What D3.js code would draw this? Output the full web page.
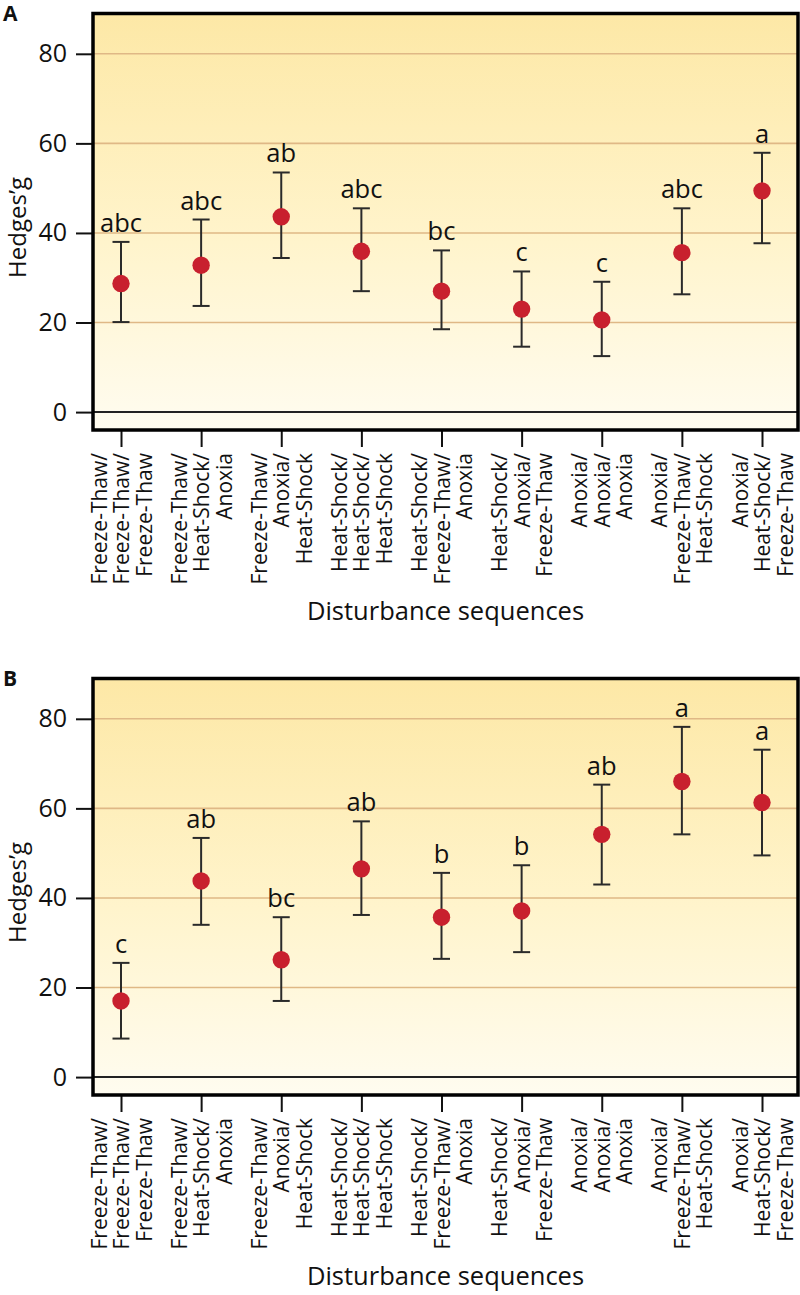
<!DOCTYPE html>
<html>
<head>
<meta charset="utf-8">
<script src="https://cdn.jsdelivr.net/npm/d3@7"></script>
<style>
  html, body { margin: 0; padding: 0; background: #fff; }
  svg { display: block; }
  text { font-family: "Open Sans", "Noto Sans", sans-serif; fill: #111; }
</style>
</head>
<body>
<svg id="chart" width="800" height="1295"></svg>
<script>
// ---------- DATA ----------
const categories = [
  ["Freeze-Thaw/", "Freeze-Thaw/", "Freeze-Thaw"],
  ["Freeze-Thaw/", "Heat-Shock/", "Anoxia"],
  ["Freeze-Thaw/", "Anoxia/", "Heat-Shock"],
  ["Heat-Shock/", "Heat-Shock/", "Heat-Shock"],
  ["Heat-Shock/", "Freeze-Thaw/", "Anoxia"],
  ["Heat-Shock/", "Anoxia/", "Freeze-Thaw"],
  ["Anoxia/", "Anoxia/", "Anoxia"],
  ["Anoxia/", "Freeze-Thaw/", "Heat-Shock"],
  ["Anoxia/", "Heat-Shock/", "Freeze-Thaw"]
];

// Panel A
const meanA  = [28.7, 32.8, 43.6, 35.9, 27.0, 23.0, 20.6, 35.6, 49.4];
const upperA = [38.0, 43.0, 53.5, 45.5, 36.1, 31.4, 29.1, 45.5, 57.9];
const lowerA = [20.1, 23.7, 34.4, 27.0, 18.5, 14.6, 12.5, 26.3, 37.7];
const lettersA = ["abc", "abc", "ab", "abc", "bc", "c", "c", "abc", "a"];

// Panel B
const meanB  = [17.0, 43.8, 26.2, 46.5, 35.7, 37.1, 54.2, 66.0, 61.3];
const upperB = [25.5, 53.4, 35.7, 57.1, 45.6, 47.3, 65.3, 78.2, 73.1];
const lowerB = [8.6, 34.0, 17.0, 36.2, 26.4, 27.9, 43.0, 54.2, 49.5];
const lettersB = ["c", "ab", "bc", "ab", "b", "b", "ab", "a", "a"];

const yTicks = [0, 20, 40, 60, 80];
const yTitle = "Hedges\u2019g";
const xTitle = "Disturbance sequences";
const panelLabels = ["A", "B"];

// ---------- LAYOUT ----------
const svg = d3.select("#chart");
const frame = { left: 93, right: 798, top: 13.5, bottom: 430 };
const panelOffset = 665;

const defs = svg.append("defs");
const grad = defs.append("linearGradient")
  .attr("id", "bg").attr("x1", 0).attr("y1", 0).attr("x2", 0).attr("y2", 1);
grad.append("stop").attr("offset", "0%").attr("stop-color", "#fde8a6");
grad.append("stop").attr("offset", "55%").attr("stop-color", "#fff4cc");
grad.append("stop").attr("offset", "100%").attr("stop-color", "#fffcf0");

const x = d3.scalePoint().domain(d3.range(categories.length)).range([121, 762]);
const y = d3.scaleLinear().domain([-4, 89]).range([frame.bottom, frame.top]);

function drawPanel(idx, mean, upper, lower, letters) {
  const g = svg.append("g").attr("transform", `translate(0,${idx * panelOffset})`);

  // background
  g.append("rect")
    .attr("x", frame.left).attr("y", frame.top)
    .attr("width", frame.right - frame.left).attr("height", frame.bottom - frame.top)
    .attr("fill", "url(#bg)");

  // grid lines
  g.selectAll("line.grid").data(yTicks.filter(d => d !== 0)).enter().append("line")
    .attr("class", "grid")
    .attr("x1", frame.left).attr("x2", frame.right)
    .attr("y1", d => y(d)).attr("y2", d => y(d))
    .attr("stroke", "#dfb886").attr("stroke-width", 1.6);

  // zero line
  g.append("line")
    .attr("x1", frame.left).attr("x2", frame.right)
    .attr("y1", y(0)).attr("y2", y(0))
    .attr("stroke", "#222").attr("stroke-width", 2);

  // y axis
  const yAxis = d3.axisLeft(y).tickValues(yTicks).tickSize(17).tickPadding(9);
  const ya = g.append("g").attr("transform", `translate(${frame.left},0)`).call(yAxis);
  ya.select(".domain").remove();
  ya.selectAll(".tick line").attr("stroke", "#111").attr("stroke-width", 2);
  ya.selectAll(".tick text").attr("font-size", 25).attr("fill", "#111")
    .style("font-family", '"Open Sans", sans-serif');

  // x axis
  const xAxis = d3.axisBottom(x).tickSize(17).tickFormat("");
  const xa = g.append("g").attr("transform", `translate(0,${frame.bottom})`).call(xAxis);
  xa.select(".domain").remove();
  xa.selectAll(".tick line").attr("stroke", "#111").attr("stroke-width", 2);

  // x category labels (3 rotated lines each)
  const lineOffsets = [-14.5, 8, 30.5];
  categories.forEach((lines, i) => {
    const tg = g.append("g").attr("transform", `translate(${x(i)},453) rotate(-90)`);
    lines.forEach((ln, j) => {
      tg.append("text")
        .attr("x", 0).attr("y", lineOffsets[j])
        .attr("text-anchor", "end")
        .attr("font-size", 21)
        .text(ln);
    });
  });

  // frame
  g.append("rect")
    .attr("x", frame.left).attr("y", frame.top)
    .attr("width", frame.right - frame.left).attr("height", frame.bottom - frame.top)
    .attr("fill", "none").attr("stroke", "#000").attr("stroke-width", 3.5);

  // error bars
  const eb = g.selectAll("g.eb").data(d3.range(mean.length)).enter().append("g").attr("class", "eb");
  eb.append("line")
    .attr("x1", i => x(i)).attr("x2", i => x(i))
    .attr("y1", i => y(upper[i])).attr("y2", i => y(lower[i]))
    .attr("stroke", "#2a2a2a").attr("stroke-width", 2);
  eb.append("line")
    .attr("x1", i => x(i) - 8.5).attr("x2", i => x(i) + 8.5)
    .attr("y1", i => y(upper[i])).attr("y2", i => y(upper[i]))
    .attr("stroke", "#2a2a2a").attr("stroke-width", 2);
  eb.append("line")
    .attr("x1", i => x(i) - 8.5).attr("x2", i => x(i) + 8.5)
    .attr("y1", i => y(lower[i])).attr("y2", i => y(lower[i]))
    .attr("stroke", "#2a2a2a").attr("stroke-width", 2);

  // points
  g.selectAll("circle.pt").data(d3.range(mean.length)).enter().append("circle")
    .attr("class", "pt")
    .attr("cx", i => x(i)).attr("cy", i => y(mean[i]))
    .attr("r", 8.7).attr("fill", "#c8202e");

  // significance letters
  g.selectAll("text.sig").data(d3.range(mean.length)).enter().append("text")
    .attr("class", "sig")
    .attr("x", i => x(i)).attr("y", i => y(upper[i]) - 10)
    .attr("text-anchor", "middle").attr("font-size", 25.5)
    .text(i => letters[i]);

  // y title
  g.append("text")
    .attr("transform", `translate(26,177) rotate(-90)`)
    .attr("text-anchor", "end").attr("font-size", 24)
    .text(yTitle);

  // x title
  g.append("text")
    .attr("x", (frame.left + frame.right) / 2).attr("y", 620)
    .attr("text-anchor", "middle").attr("font-size", 25.5)
    .text(xTitle);

  // panel label
  g.append("text")
    .attr("x", 3).attr("y", 20.5)
    .attr("font-size", 21).attr("font-weight", "bold")
    .text(panelLabels[idx]);
}

drawPanel(0, meanA, upperA, lowerA, lettersA);
drawPanel(1, meanB, upperB, lowerB, lettersB);
</script>
</body>
</html>
